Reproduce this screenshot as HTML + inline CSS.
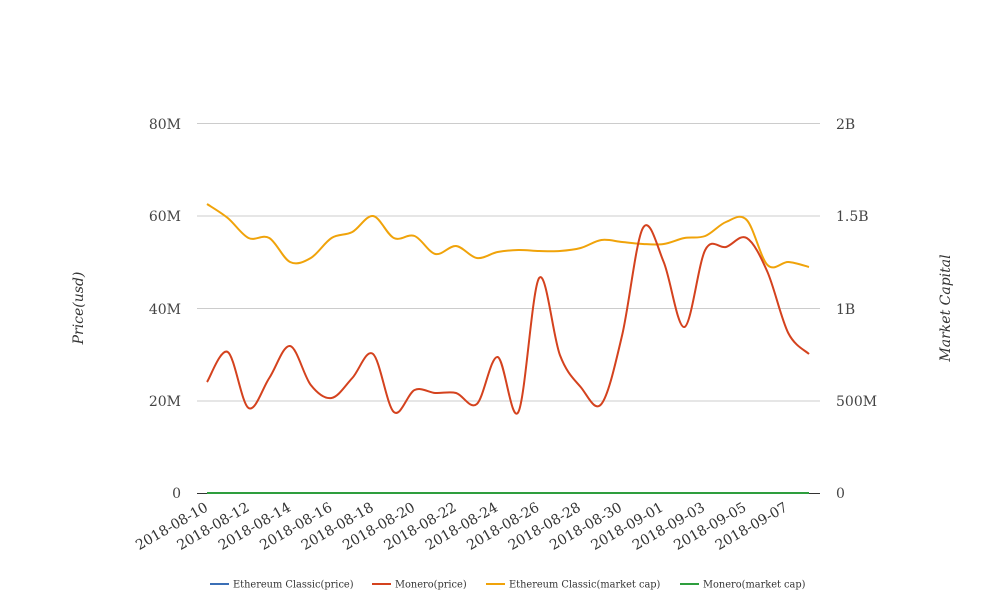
<!DOCTYPE html>
<html><head><meta charset="utf-8"><style>
body{margin:0;background:#fff;}
svg{display:block;font-family:"DejaVu Serif","Liberation Serif",serif;}
</style></head><body>
<svg id="s" width="1008" height="616" xmlns="http://www.w3.org/2000/svg">
<g stroke="#ccc" stroke-width="1">
<line x1="197" y1="123.5" x2="820" y2="123.5"/>
<line x1="197" y1="216" x2="820" y2="216"/>
<line x1="197" y1="308.5" x2="820" y2="308.5"/>
<line x1="197" y1="401" x2="820" y2="401"/>
</g>
<line x1="197" y1="493.5" x2="820" y2="493.5" stroke="#333" stroke-width="1"/>
<g font-size="14" fill="#444" text-anchor="end">
<text x="181" y="129">80M</text><text x="181" y="221">60M</text><text x="181" y="314">40M</text><text x="181" y="406">20M</text><text x="181" y="498">0</text>
</g>
<g font-size="14" fill="#444" text-anchor="start">
<text x="836" y="129">2B</text><text x="836" y="221">1.5B</text><text x="836" y="314">1B</text><text x="836" y="406">500M</text><text x="836" y="498">0</text>
</g>
<text transform="translate(83,308) rotate(-90)" font-size="14" font-style="italic" fill="#333" text-anchor="middle">Price(usd)</text>
<text transform="translate(950,308) rotate(-90)" font-size="14" font-style="italic" fill="#333" text-anchor="middle">Market Capital</text>
<g id="xl" font-size="14" fill="#333" text-anchor="end"></g>
<path id="p1" fill="none" stroke="#f0a30a" stroke-width="2"/>
<path id="p2" fill="none" stroke="#d4421e" stroke-width="2"/>
<line x1="207" y1="493" x2="809" y2="493" stroke="#2e9e3e" stroke-width="2"/>
<g font-size="9.8" fill="#333">
<line x1="210" y1="584" x2="229" y2="584" stroke="#3b6fb6" stroke-width="2"/><text x="233" y="587.5">Ethereum Classic(price)</text>
<line x1="372" y1="584" x2="391" y2="584" stroke="#d4421e" stroke-width="2"/><text x="395" y="587.5">Monero(price)</text>
<line x1="486" y1="584" x2="505" y2="584" stroke="#f0a30a" stroke-width="2"/><text x="509" y="587.5">Ethereum Classic(market cap)</text>
<line x1="680" y1="584" x2="699" y2="584" stroke="#2e9e3e" stroke-width="2"/><text x="703" y="587.5">Monero(market cap)</text>
</g>
</svg>
<script>
var red=[382,352,408,378,346,385,398,378,354,412,390,393,393,404,357,412,278,355,387,404,335,228,262,327,250,247,238,272,333,354];
var org=[204,218,238,238,262,258,238,232,216,238,236,254,246,258,252,250,251,251,248,240,242,244,244,238,236,222,220,265,262,267];
function path(a){var p=a.map(function(y,i){return [207+602/29*i,y]});
var d="M"+p[0][0]+","+p[0][1];
for(var i=0;i<p.length-1;i++){var p0=p[i-1]||p[i],p1=p[i],p2=p[i+1],p3=p[i+2]||p2;
var c1=[p1[0]+(p2[0]-p0[0])/6,p1[1]+(p2[1]-p0[1])/6],c2=[p2[0]-(p3[0]-p1[0])/6,p2[1]-(p3[1]-p1[1])/6];
d+="C"+c1+" "+c2+" "+p2;}return d;}
document.getElementById("p1").setAttribute("d",path(org));
document.getElementById("p2").setAttribute("d",path(red));
var g=document.getElementById("xl"),ns="http://www.w3.org/2000/svg";
for(var i=0;i<15;i++){var d=new Date(Date.UTC(2018,7,10+2*i));var s=d.toISOString().slice(0,10);
var x=209+41.4*i,t=document.createElementNS(ns,"text");t.setAttribute("transform","translate("+x+",510) rotate(-30)");t.textContent=s;g.appendChild(t);}
</script>
</body></html>
